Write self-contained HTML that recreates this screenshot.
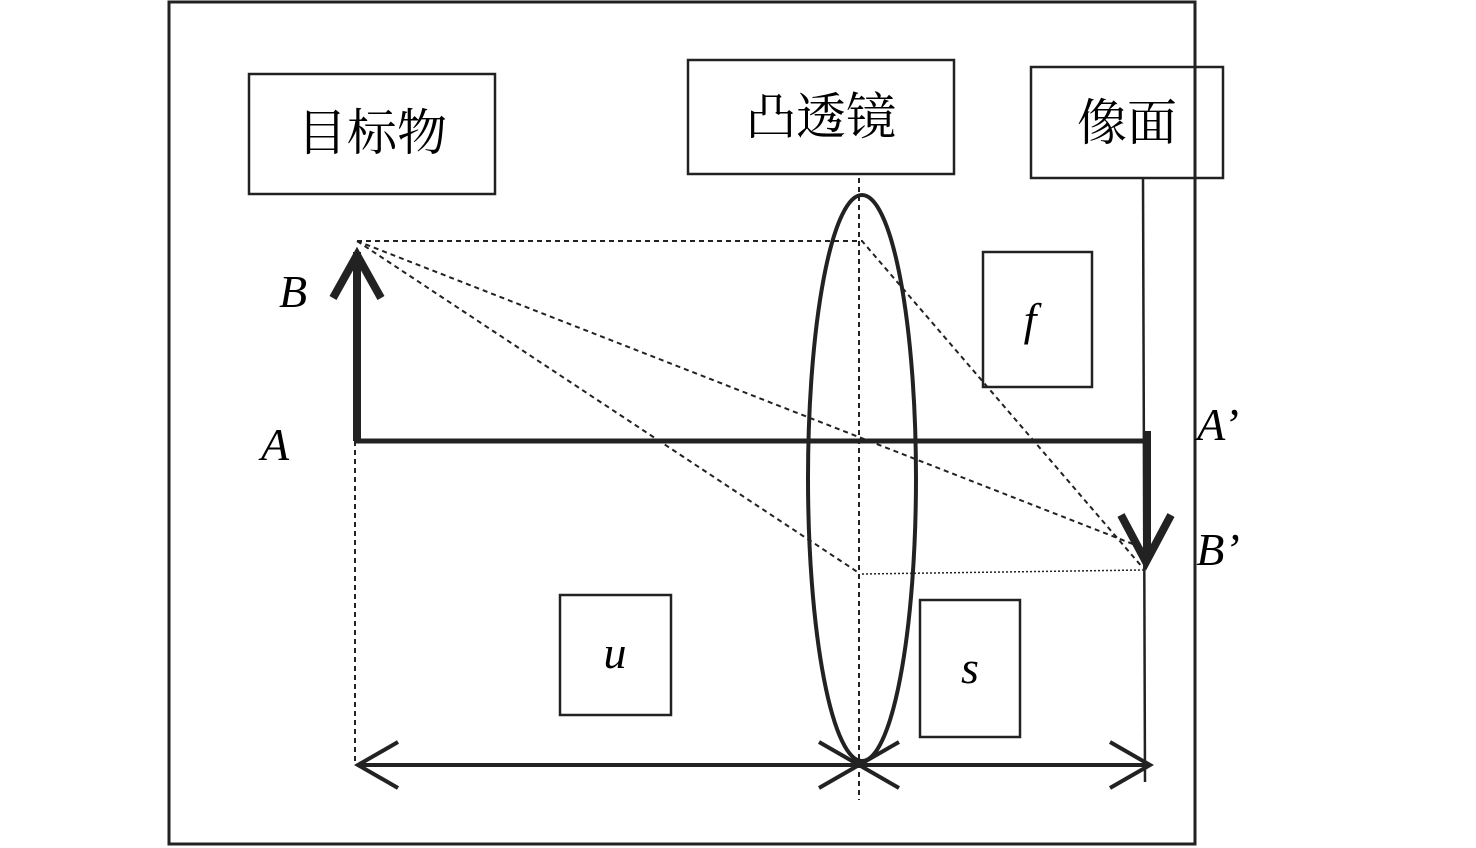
<!DOCTYPE html>
<html><head><meta charset="utf-8"><style>
html,body{margin:0;padding:0;background:#fff;}
svg{display:block;}
.cjk{font-family:"Liberation Serif","Noto Serif CJK SC","Noto Sans CJK SC",serif;font-size:50px;}
.it{font-family:"Liberation Serif",serif;font-style:italic;font-size:46px;}
</style></head><body>
<svg width="1476" height="848" viewBox="0 0 1476 848" xmlns="http://www.w3.org/2000/svg">
<rect x="169" y="2" width="1026" height="842" fill="none" stroke="#222" stroke-width="3"/>
<g fill="none" stroke="#222" stroke-width="2.5">
<rect x="249" y="74" width="246" height="120"/>
<rect x="688" y="60" width="266" height="114"/>
<rect x="1031" y="67" width="192" height="111"/>
<rect x="983" y="252" width="109" height="135"/>
<rect x="560" y="595" width="111" height="120"/>
<rect x="920" y="600" width="100" height="137"/>
</g>
<text class="cjk" x="372" y="150" text-anchor="middle">目标物</text>
<text class="cjk" x="821" y="134" text-anchor="middle">凸透镜</text>
<text class="cjk" x="1127" y="140" text-anchor="middle">像面</text>
<text class="it" x="1030" y="335" text-anchor="middle">f</text>
<text class="it" x="615" y="668" text-anchor="middle">u</text>
<text class="it" x="970" y="683" text-anchor="middle">s</text>
<text class="it" x="293" y="307" text-anchor="middle">B</text>
<text class="it" x="275" y="460" text-anchor="middle">A</text>
<text class="it" x="1218" y="440" text-anchor="middle">A’</text>
<text class="it" x="1218" y="565" text-anchor="middle">B’</text>
<!-- lens -->
<ellipse cx="862" cy="478" rx="54" ry="283" fill="none" stroke="#222" stroke-width="4"/>
<!-- axis dashed vertical -->
<line x1="859" y1="178" x2="859" y2="800" stroke="#222" stroke-width="2" stroke-dasharray="5,4"/>
<!-- main axis -->
<line x1="355" y1="441" x2="1150" y2="441" stroke="#222" stroke-width="5"/>
<!-- object arrow -->
<line x1="357" y1="441" x2="357" y2="252" stroke="#222" stroke-width="8"/>
<polyline points="333,298 357,255 381,298" fill="none" stroke="#222" stroke-width="8"/>
<!-- image plane line -->
<line x1="1143" y1="178" x2="1145" y2="782" stroke="#222" stroke-width="2.5"/>
<!-- image arrow -->
<line x1="1147" y1="431" x2="1147" y2="560" stroke="#222" stroke-width="8"/>
<polyline points="1121,515 1146,562 1171,515" fill="none" stroke="#222" stroke-width="8"/>
<!-- rays -->
<g stroke="#222" stroke-width="2" stroke-dasharray="5,4" fill="none">
<polyline points="357,241 862,241 1143,568"/>
<line x1="357" y1="241" x2="1143" y2="548"/>
<line x1="357" y1="241" x2="859" y2="573"/>
<line x1="355" y1="441" x2="355" y2="762"/>
</g>
<line x1="862" y1="574" x2="1143" y2="570" stroke="#222" stroke-width="1.5" stroke-dasharray="2,2"/>
<!-- dimension arrows -->
<g stroke="#222" stroke-width="4" fill="none">
<line x1="358" y1="765" x2="859" y2="765"/>
<polyline points="398,742 358,765 398,788"/>
<polyline points="819,742 859,765 819,788"/>
<line x1="859" y1="765" x2="1150" y2="765"/>
<polyline points="899,742 859,765 899,788"/>
<polyline points="1110,742 1150,765 1110,788"/>
</g>
</svg>
</body></html>
